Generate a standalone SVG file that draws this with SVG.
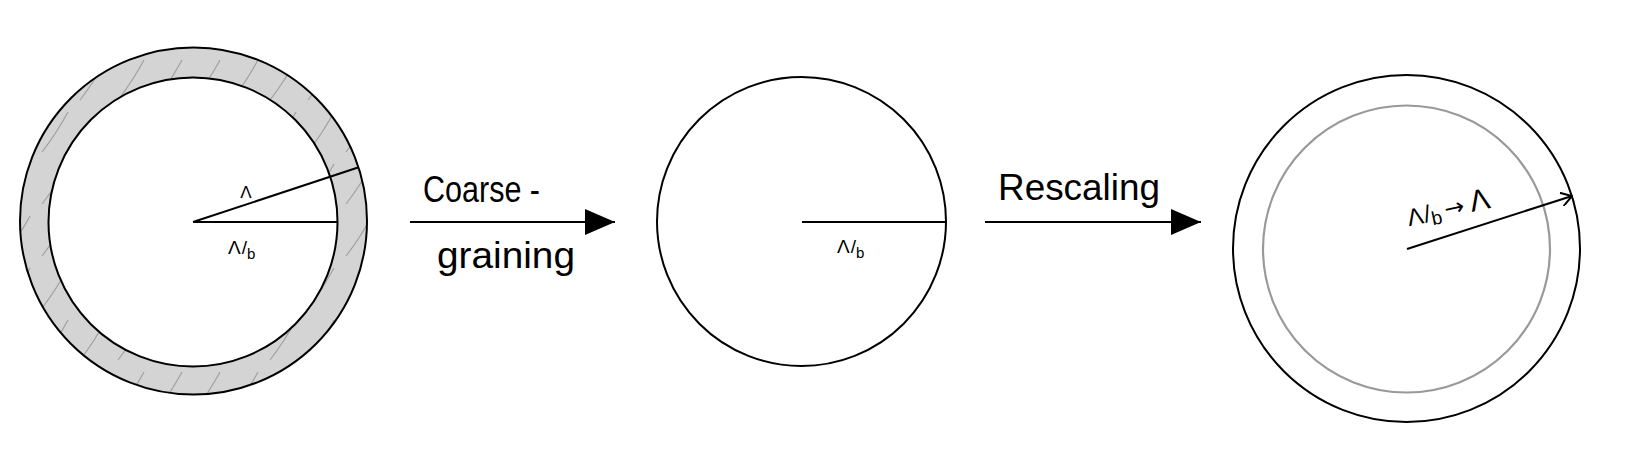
<svg xmlns="http://www.w3.org/2000/svg" width="1631" height="465" viewBox="0 0 1631 465">
<style>
.ln{fill:none;stroke:#000;stroke-width:2}
.txt{font-family:"Liberation Sans",Arial,sans-serif;fill:#000}
.hatch{stroke:#a0a0a0;stroke-width:1.2;fill:none}
</style>
<defs>
<marker id="tri" viewBox="0 0 30 26" refX="30" refY="13" markerWidth="30" markerHeight="26" markerUnits="userSpaceOnUse" orient="auto">
<path d="M0,0 L30,13 L0,26 Z" fill="#000"/>
</marker>
<marker id="open" viewBox="0 0 12 14" refX="11" refY="7" markerWidth="12" markerHeight="14" markerUnits="userSpaceOnUse" orient="auto">
<path d="M0,0 L11,7 L0,14" fill="none" stroke="#000" stroke-width="2"/>
</marker>
<clipPath id="ring">
<path d="M193.5,47.5 a173.5,173.5 0 1,0 0.01,0 Z M193,77.5 a144.5,144.5 0 1,1 -0.01,0 Z" clip-rule="evenodd"/>
</clipPath>
<pattern id="hp" width="38" height="52" patternUnits="userSpaceOnUse">
<path class="hatch" d="M4,48 Q18,30 30,8"/>
</pattern>
</defs>
<g id="node-cutoff">
<path d="M193.5,47.5 a173.5,173.5 0 1,0 0.01,0 Z M193,77.5 a144.5,144.5 0 1,1 -0.01,0 Z" fill="#d4d4d4" fill-rule="evenodd"/>
<rect x="15" y="40" width="360" height="360" fill="url(#hp)" clip-path="url(#ring)"/>
<circle class="ln" cx="193.5" cy="221" r="173.5"/>
<circle class="ln" cx="193" cy="222" r="144.5"/>
<line class="ln" x1="193" y1="222" x2="337.5" y2="222"/>
<line class="ln" x1="193" y1="222" x2="358" y2="167.5"/>
<text class="txt" x="246" y="198" font-size="17" text-anchor="middle">Λ</text>
<text class="txt" x="228" y="254" font-size="19">Λ<tspan dx="1">/</tspan><tspan font-size="15" dy="5">b</tspan></text>
</g>
<g id="node-coarse">
<circle class="ln" cx="801.5" cy="221.5" r="144.5"/>
<line class="ln" x1="802" y1="222" x2="946" y2="222"/>
<text class="txt" x="837" y="253" font-size="19">Λ<tspan dx="1">/</tspan><tspan font-size="15" dy="5">b</tspan></text>
</g>
<g id="node-rescaled">
<circle class="ln" cx="1406.5" cy="248.5" r="173.5"/>
<circle cx="1406.5" cy="249" r="143.5" fill="none" stroke="#999" stroke-width="2.2"/>
<line class="ln" x1="1407" y1="249" x2="1572" y2="196" marker-end="url(#open)"/>
<g transform="rotate(-12 1410 222)">
<text class="txt" x="1408" y="226" font-size="24">Λ<tspan dx="1">/</tspan><tspan font-size="19" dy="4">b</tspan><tspan font-family="DejaVu Sans, sans-serif" font-size="24" dy="-5" dx="4">→</tspan><tspan font-size="30" dx="6">Λ</tspan></text>
</g>
</g>
<g id="connectors">
<line class="ln" x1="410" y1="222" x2="615" y2="222" marker-end="url(#tri)"/>
<text class="txt" x="423" y="202" font-size="36" textLength="117" lengthAdjust="spacingAndGlyphs">Coarse -</text>
<text class="txt" x="437" y="268" font-size="36" textLength="138" lengthAdjust="spacingAndGlyphs">graining</text>
<line class="ln" x1="985" y1="222" x2="1201" y2="222" marker-end="url(#tri)"/>
<text class="txt" x="998" y="200" font-size="36" textLength="162" lengthAdjust="spacingAndGlyphs">Rescaling</text>
</g>
</svg>
